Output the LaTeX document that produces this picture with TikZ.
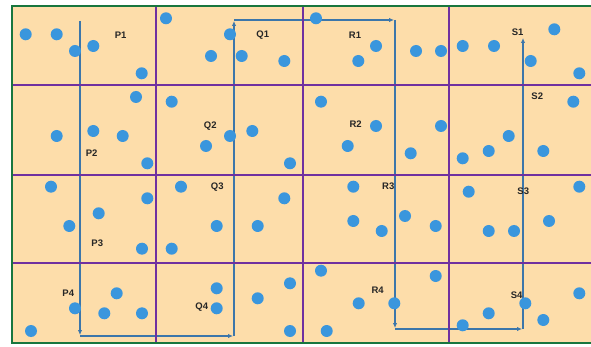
\documentclass[tikz,border=0pt]{standalone}
\usepackage{fontspec}
\setsansfont{Liberation Sans}
\usepackage{tikz}
\usetikzlibrary{arrows.meta}
\definecolor{peach}{RGB}{253,221,170}
\definecolor{gridpurple}{RGB}{112,48,160}
\definecolor{framegreen}{RGB}{24,118,62}
\definecolor{dotblue}{RGB}{58,150,221}
\definecolor{walkblue}{RGB}{60,118,170}
\tikzset{
  cellfill/.style={fill=peach},
  gridline/.style={draw=gridpurple, line width=2.2pt},
  frame/.style={draw=framegreen, line width=2.4pt},
  dot/.style={circle, fill=dotblue, inner sep=0pt, minimum size=12pt},
  walk/.style={draw=walkblue, line width=1.2pt, -{Latex[length=5pt,width=4.5pt]}, shorten >=1pt},
  lbl/.style={font=\sffamily\bfseries\fontsize{9.5}{10}\selectfont, text=black!85, inner sep=0pt},
}

\begin{document}
\begin{tikzpicture}[x=1pt,y=-1pt]
\useasboundingbox (0,0) rectangle (591,347);
% field
\fill[cellfill] (12,6) rectangle (592,343);
% snake path
\coordinate (c0) at (80,21);
\coordinate (c1) at (80,336);
\coordinate (c2) at (234,336);
\coordinate (c3) at (234,20);
\coordinate (c4) at (395,20);
\coordinate (c5) at (395,329);
\coordinate (c6) at (523,329);
\coordinate (c7) at (523,37);
\foreach \a/\b in {c0/c1,c1/c2,c2/c3,c3/c4,c4/c5,c5/c6,c6/c7}
  \draw[walk] (\a) -- (\b);
% grid and frame
\foreach \gx in {156,303,449} \draw[gridline] (\gx,6) -- (\gx,343);
\foreach \gy in {85,175,263} \draw[gridline] (12,\gy) -- (592,\gy);
\draw[frame] (592,6) -- (12,6) -- (12,343) -- (592,343);
% points
\foreach \px/\py [count=\i] in {
  25.7/34.3, 56.7/34.3, 75/51, 93.3/46, 141.7/73.3,
  166/18.3, 230/34.3, 211/56, 241.7/56, 284.3/61,
  136/97, 171.7/101.7, 56.7/136, 93.3/131, 122.7/136, 147.3/163.3,
  230/136, 252.3/131, 206/146, 290/163.3,
  316/18.3, 376/46, 358.3/61, 416/51, 441/51,
  462.7/46, 494/46, 554.3/29.3, 530.7/61, 579.3/73.3,
  321/101.7, 376/126, 441/126, 347.7/146, 410.7/153.3,
  462.7/158.3, 488.7/151, 508.7/136, 543.3/151, 573.3/101.7,
  51/186.7, 147.3/198.3, 98.7/213.3, 69.3/226, 142/248.7,
  171.7/248.7, 181/186.7, 216.7/226, 257.7/226, 284.3/198.3,
  116.7/293.3, 75/308.3, 104.3/313.3, 142/313.3, 31/331,
  216.7/288.3, 216.7/308.3, 257.7/298.3, 290/283.3, 290/331,
  353.3/186.7, 353.3/221, 381.7/231, 405/216, 435.7/226,
  468.7/191.7, 488.7/231, 514/231, 549/221, 579.3/186.7,
  321/270.7, 435.7/276, 358.7/303.3, 394.3/303.3, 326.7/331,
  462.7/325.3, 488.7/313.3, 525.3/303.3, 543.3/320, 579.3/293.3}
  \node[dot] (d\i) at (\px,\py) {};
% cell labels
\node[lbl] (p1) at (120.7,35) {P1};
\node[lbl] (p2) at (91.7,152.7) {P2};
\node[lbl] (p3) at (97.3,243.3) {P3};
\node[lbl] (p4) at (68.3,293.3) {P4};
\node[lbl] (q1) at (262.7,35) {Q1};
\node[lbl] (q2) at (210.3,126) {Q2};
\node[lbl] (q3) at (217.3,187.3) {Q3};
\node[lbl] (q4) at (201.7,306.7) {Q4};
\node[lbl] (r1) at (355,35) {R1};
\node[lbl] (r2) at (355.7,124) {R2};
\node[lbl] (r3) at (388.3,186.7) {R3};
\node[lbl] (r4) at (377.7,290.7) {R4};
\node[lbl] (s1) at (517.7,32.3) {S1};
\node[lbl] (s2) at (537.3,96.7) {S2};
\node[lbl] (s3) at (523.3,191.7) {S3};
\node[lbl] (s4) at (516.7,295.7) {S4};
\end{tikzpicture}
\end{document}
